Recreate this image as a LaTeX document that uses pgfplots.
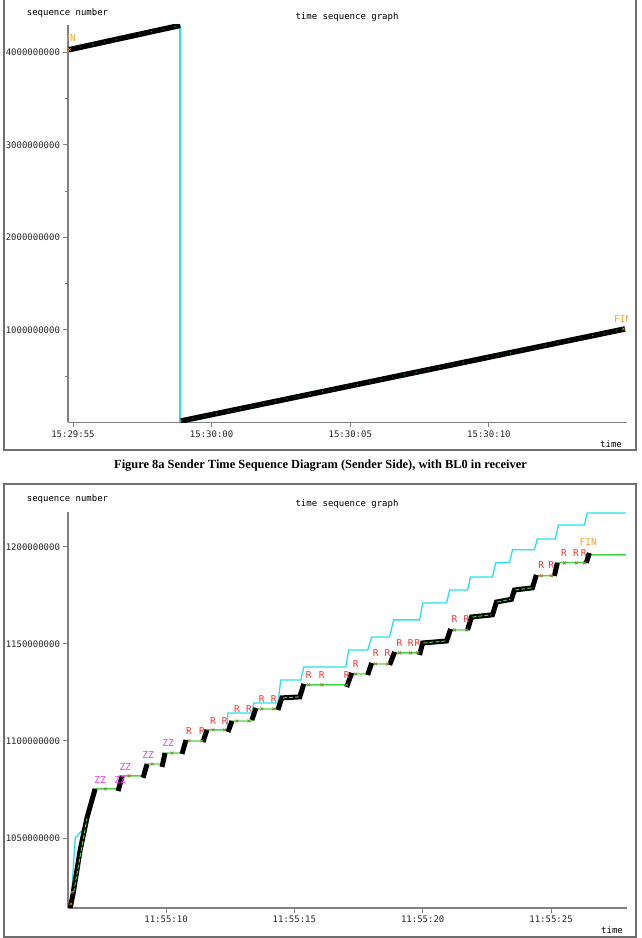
\documentclass[border=0pt]{standalone}
\usepackage{fontspec}
\setmainfont{Liberation Serif}
\newfontfamily\tcpfont{DejaVu Sans Mono}
\usepackage{pgfplots}
\pgfplotsset{compat=1.18}

\definecolor{axgray}{RGB}{128,128,128}
\definecolor{framegray}{RGB}{110,110,110}
\definecolor{ackgreen}{RGB}{70,215,70}
\definecolor{dotgreen}{RGB}{30,150,60}
\definecolor{wincyan}{RGB}{40,225,235}
\definecolor{winteal}{RGB}{0,110,120}
\definecolor{retxred}{RGB}{250,50,50}
\definecolor{zzmag}{RGB}{235,60,235}
\definecolor{synorange}{RGB}{245,165,40}
\definecolor{ackmark}{RGB}{150,130,60}

\pgfplotsset{
  tcpaxis/.style={
    scale only axis,
    anchor=south west,
    axis lines=left,
    axis line style={axgray, line width=1.2pt, -},
    tick style={axgray, line width=0.9pt},
    tick align=outside,
    major tick length=4.5pt,
    minor tick length=3pt,
    ticklabel style={font=\tcpfont\fontsize{9}{9}\selectfont, text=black!85},
    /pgf/number format/assume math mode=true,
    clip mode=global,
  },
  seglabel/.style={draw=none, nodes near coords, point meta=explicit symbolic,
    every node near coord/.append style={anchor=center, inner sep=0pt,
      font=\tcpfont\fontsize{9.5}{9.5}\selectfont, text=#1}},
}
\newcommand{\tcptext}{\tcpfont\fontsize{9}{9}\selectfont}

\begin{document}
\begin{tikzpicture}
\useasboundingbox (0,0) rectangle (641pt,938pt);
\clip (0,0) rectangle (641pt,938pt);

% ---------- frames ----------
\draw[framegray, line width=2pt] (4pt,945pt) rectangle (636pt,488pt);
\draw[framegray, line width=2pt] (4pt,454pt) rectangle (636pt,1pt);

% ---------- 8a: sender side, sequence number wraps at 2^32 (values in millions) ----------
\begin{axis}[tcpaxis,
  at={(68pt,515.5pt)}, width=559pt, height=397.5pt,
  xmin=-0.18, xmax=19.98, ymin=0, ymax=4294.967296,
  xtick={0,5,10,15}, xticklabels={15:29:55,15:30:00,15:30:05,15:30:10},
  ytick={1000,2000,3000,4000},
  yticklabels={1000000000,2000000000,3000000000,4000000000},
  minor ytick={500,1500,2500,3500},
]
  % window line at the wrap
  \addplot[winteal, line width=0.7pt] coordinates {(3.82,0) (3.82,4294.97)};
  \addplot[wincyan, line width=1.6pt] coordinates {(3.87,0) (3.87,4294.97)};
  % data segments
  \addplot[black, line width=5.5pt] coordinates {(-0.15,4027) (3.86,4290)};
  \addplot[black, line width=5.5pt] coordinates {(3.89,16) (19.91,1011)};
  \addplot[dotgreen, line width=1pt, dash pattern=on 1pt off 11pt] coordinates {(-0.15,4027) (3.86,4290)};
  \addplot[dotgreen, line width=1pt, dash pattern=on 1pt off 11pt] coordinates {(3.89,16) (19.91,1011)};
  \addplot[only marks, mark=x, mark size=2pt, synorange] coordinates {(-0.12,4030) (19.85,1012)};
  % SYN / FIN, cut by the plot area
  \node[anchor=east, inner sep=0pt, text=synorange, font=\tcpfont\fontsize{9.5}{9.5}\selectfont]
    at (axis cs:0.11,4157) {SYN};
  \node[anchor=west, inner sep=0pt, text=synorange, font=\tcpfont\fontsize{9.5}{9.5}\selectfont]
    at (axis cs:19.51,1119) {FIN};
\end{axis}

\node[font=\tcptext] at (67.5pt,925pt) {sequence number};
\node[font=\tcptext] at (347pt,921pt) {time sequence graph};
\node[font=\tcptext] at (611pt,494pt) {time};

\node[font=\bfseries\fontsize{12.4}{14}\selectfont] at (320.5pt,472pt)
  {Figure 8a Sender Time Sequence Diagram (Sender Side), with BL0 in receiver};

% ---------- receiver with BL0: sequence numbers in millions ----------
\begin{axis}[tcpaxis,
  at={(68pt,30pt)}, width=559pt, height=396pt,
  xmin=6.18, xmax=27.96, ymin=1013.9, ymax=1218.0,
  xtick={10,15,20,25}, xticklabels={11:55:10,11:55:15,11:55:20,11:55:25},
  ytick={1050,1100,1150,1200},
  yticklabels={1050000000,1100000000,1150000000,1200000000},
  unbounded coords=jump,
]
  % advertised window
  \addplot[wincyan, line width=1.3pt] coordinates {
    (6.30,1020.0) (6.34,1024.7) (6.46,1050.0) (6.85,1055.7) (7.20,1074.0)
    (nan,nan)
    (12.38,1108.0) (12.41,1114.4) (13.35,1114.4) (13.42,1119.6) (14.36,1119.6)
    (14.47,1131.4) (15.25,1131.4) (15.37,1138.1) (17.00,1138.1) (17.12,1146.9)
    (17.86,1146.9) (18.01,1153.6) (18.71,1153.6) (18.87,1162.4) (19.88,1162.4)
    (20.00,1171.1) (20.93,1171.1) (21.05,1177.8) (21.75,1177.8) (21.86,1184.5)
    (22.72,1184.5) (22.84,1191.8) (23.38,1191.8) (23.50,1198.5) (24.35,1198.5)
    (24.47,1204.1) (25.17,1204.1) (25.29,1211.3) (26.30,1211.3) (26.41,1217.5)
    (27.93,1217.5)};
  % acknowledgements
  \addplot[ackgreen, line width=1.3pt] coordinates {
    (7.24,1075.3) (8.13,1075.3) (8.29,1082.0) (9.10,1082.0) (9.26,1088.1)
    (9.84,1088.1) (9.96,1093.8) (10.62,1093.8) (10.78,1100.0) (11.44,1100.0)
    (11.60,1105.7) (12.41,1105.7) (12.57,1110.3) (13.35,1110.3) (13.50,1116.5)
    (14.36,1116.5) (14.51,1122.2) (15.21,1122.7) (15.37,1128.9) (17.04,1128.9)
    (17.24,1134.5) (17.86,1134.5) (18.01,1139.7) (18.71,1139.7) (18.91,1145.4)
    (19.88,1145.4) (20.00,1150.5) (20.93,1151.5) (21.09,1157.2) (21.75,1157.2)
    (21.90,1163.9) (22.72,1165.0) (22.87,1171.6) (23.46,1173.0) (23.57,1177.8)
    (24.27,1178.9) (24.43,1185.1) (25.13,1185.1) (25.25,1191.8) (26.38,1191.8)
    (26.49,1195.9) (27.93,1195.9)};
  \addplot[only marks, mark=x, mark size=2pt, ackmark, mark options={line width=0.8pt}] coordinates {
    (7.63,1075.3) (8.56,1082.0) (9.46,1088.1) (10.23,1093.8)
    (10.89,1100.0) (11.40,1100.0) (11.83,1105.7) (12.29,1105.7)
    (12.76,1110.3) (13.23,1110.3) (13.73,1116.5) (14.20,1116.5)
    (15.56,1128.9) (16.07,1128.9) (17.04,1128.9) (17.39,1134.5)
    (18.17,1139.7) (18.63,1139.7) (19.10,1145.4) (19.53,1145.4) (19.80,1145.4)
    (21.24,1157.2) (21.71,1157.2) (24.62,1185.1) (25.01,1185.1)
    (25.52,1191.8) (25.99,1191.8) (26.30,1191.8)};
  % zero-window probes and retransmissions
  \addplot[seglabel=zzmag] coordinates {
    (7.43,1079.9)[ZZ] (8.21,1079.9)[ZZ] (8.41,1086.6)[ZZ] (9.30,1092.8)[ZZ] (10.08,1099.0)[ZZ]};
  \addplot[seglabel=retxred] coordinates {
    (10.89,1105.2)[R] (11.40,1105.2)[R] (11.83,1110.3)[R] (12.29,1110.3)[R]
    (12.76,1116.5)[R] (13.23,1116.5)[R] (13.73,1121.6)[R] (14.20,1121.6)[R]
    (15.56,1134.0)[R] (16.07,1134.0)[R] (17.04,1134.0)[R] (17.39,1139.7)[R]
    (18.17,1145.4)[R] (18.63,1145.4)[R] (19.10,1150.5)[R] (19.53,1150.5)[R] (19.80,1150.5)[R]
    (21.24,1162.9)[R] (21.71,1162.9)[R] (24.62,1190.7)[R] (25.01,1190.7)[R]
    (25.50,1196.9)[R] (25.97,1196.9)[R] (26.27,1196.9)[R]};
  \addplot[seglabel=synorange] coordinates {(26.45,1202.6)[FIN]};
  % data segments
  \addplot[black, line width=5pt] coordinates {
    (6.266,1013.9) (6.383,1021.6) (6.655,1043.8) (6.927,1060.8) (7.238,1075.3)
    (nan,nan) (8.133,1074.2) (8.289,1082.0)
    (nan,nan) (9.105,1081.0) (9.261,1088.1)
    (nan,nan) (9.844,1086.6) (9.961,1093.8)
    (nan,nan) (10.622,1093.3) (10.778,1100.5)
    (nan,nan) (11.439,1099.5) (11.595,1105.7)
    (nan,nan) (12.412,1104.6) (12.567,1110.3)
    (nan,nan) (13.345,1110.8) (13.501,1117.0)
    (nan,nan) (14.356,1116.0) (14.512,1122.2) (15.212,1122.7) (15.368,1129.4)
    (nan,nan) (17.040,1127.8) (17.235,1135.1)
    (nan,nan) (17.857,1134.0) (18.012,1140.2)
    (nan,nan) (18.713,1139.2) (18.907,1145.9)
    (nan,nan) (19.879,1144.3) (19.996,1150.5) (20.930,1151.5) (21.085,1157.7)
    (nan,nan) (21.746,1157.2) (21.902,1163.9) (22.719,1165.0) (22.874,1171.6)
      (23.458,1173.0) (23.574,1177.8) (24.274,1178.9) (24.430,1185.6)
    (nan,nan) (25.130,1185.1) (25.247,1191.8)
    (nan,nan) (26.375,1191.8) (26.492,1196.9)};
  % acks showing through the flat runs
  \addplot[ackgreen, line width=1pt, dash pattern=on 4pt off 2pt] coordinates {
    (6.40,1022) (6.92,1060)
    (nan,nan) (14.55,1122.2) (15.17,1122.7)
    (nan,nan) (20.03,1150.5) (20.89,1151.5)
    (nan,nan) (21.94,1163.9) (22.68,1165.0)
    (nan,nan) (22.91,1171.6) (23.42,1173.0)
    (nan,nan) (23.61,1177.8) (24.24,1178.9)};
  \addplot[only marks, mark=x, mark size=2pt, synorange] coordinates {(6.29,1016) (6.33,1022)};
\end{axis}

\node[font=\tcptext] at (67.5pt,439pt) {sequence number};
\node[font=\tcptext] at (347pt,434pt) {time sequence graph};
\node[font=\tcptext] at (612pt,8pt) {time};
\end{tikzpicture}
\end{document}
